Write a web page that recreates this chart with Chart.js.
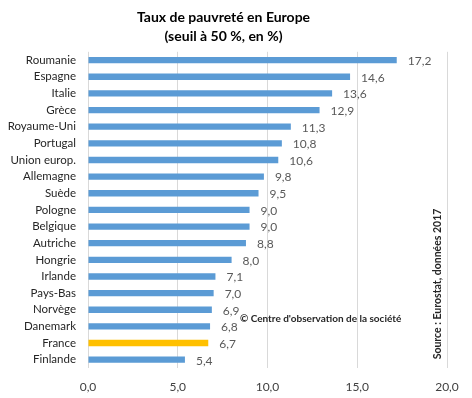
<!DOCTYPE html>
<html>
<head>
<meta charset="utf-8">
<script src="https://cdn.jsdelivr.net/npm/chart.js@4/dist/chart.umd.min.js"></script>
<style>
  html, body { margin: 0; padding: 0; background: #fff; }
  #wrap { position: relative; width: 472px; height: 398px; }
</style>
</head>
<body>
<div id="wrap"><canvas id="chart" width="472" height="398"></canvas></div>
<script>
const countries = ['Roumanie', 'Espagne', 'Italie', 'Grèce', 'Royaume-Uni', 'Portugal', 'Union europ.',
  'Allemagne', 'Suède', 'Pologne', 'Belgique', 'Autriche', 'Hongrie', 'Irlande', 'Pays-Bas',
  'Norvège', 'Danemark', 'France', 'Finlande'];
const rates = [17.2, 14.6, 13.6, 12.9, 11.3, 10.8, 10.6, 9.8, 9.5, 9.0, 9.0, 8.8, 8.0, 7.1, 7.0, 6.9, 6.8, 6.7, 5.4];
const xTicks = [0, 5, 10, 15, 20];
const titleLines = ['Taux de pauvreté en Europe', '(seuil à 50 %, en %)'];
const credit = "© Centre d'observation de la société";
const source = 'Source : Eurostat, données 2017';

const fmt = v => v.toFixed(1).replace('.', ',');
const FONT = 'Lato, "Open Sans", sans-serif';

const labelsPlugin = {
  id: 'labelsPlugin',
  afterDatasetsDraw(chart) {
    const ctx = chart.ctx;
    ctx.save();
    ctx.font = '12px ' + FONT;
    ctx.fillStyle = '#595959';
    ctx.textBaseline = 'middle';
    ctx.textAlign = 'left';
    chart.getDatasetMeta(0).data.forEach((bar, i) => {
      ctx.fillText(fmt(rates[i]), bar.x + 11, bar.y + 1);
    });
    // copyright note
    ctx.font = 'bold 10px ' + FONT;
    ctx.fillStyle = '#262626';
    ctx.fillText(credit, 240, 319);
    // source, rotated
    ctx.translate(438, 284);
    ctx.rotate(-Math.PI / 2);
    ctx.textAlign = 'center';
    ctx.font = 'bold 10.5px ' + FONT;
    ctx.fillText(source, 0, 0);
    ctx.restore();
  }
};

new Chart(document.getElementById('chart'), {
  type: 'bar',
  data: {
    labels: countries,
    datasets: [{
      data: rates,
      backgroundColor: countries.map(c => c === 'France' ? '#ffc000' : '#5b9bd5'),
      barPercentage: 0.38,
      categoryPercentage: 1
    }]
  },
  options: {
    indexAxis: 'y',
    responsive: false,
    animation: false,
    layout: { padding: { left: 0, right: 25, top: 0, bottom: 0 } },
    plugins: {
      legend: { display: false },
      tooltip: { enabled: false },
      title: {
        display: true,
        text: titleLines,
        color: '#000',
        font: { family: FONT, size: 14, weight: 'bold', lineHeight: 1.35 },
        padding: { top: 8, bottom: 6 }
      }
    },
    scales: {
      x: {
        min: 0,
        max: 20,
        afterBuildTicks: s => { s.ticks = xTicks.map(v => ({ value: v })); },
        ticks: {
          callback: v => fmt(v),
          color: '#404040',
          font: { family: FONT, size: 12 },
          padding: 12,
          maxRotation: 0
        },
        grid: { color: '#d9d9d9', drawTicks: false },
        border: { display: false },
        afterFit: s => { s.height = 30; }
      },
      y: {
        ticks: {
          color: '#262626',
          font: { family: FONT, size: 11.5 },
          padding: 12,
          autoSkip: false
        },
        grid: { display: false, drawTicks: false },
        border: { display: false },
        afterFit: s => { s.width = 88; }
      }
    }
  },
  plugins: [labelsPlugin]
});
</script>
</body>
</html>
